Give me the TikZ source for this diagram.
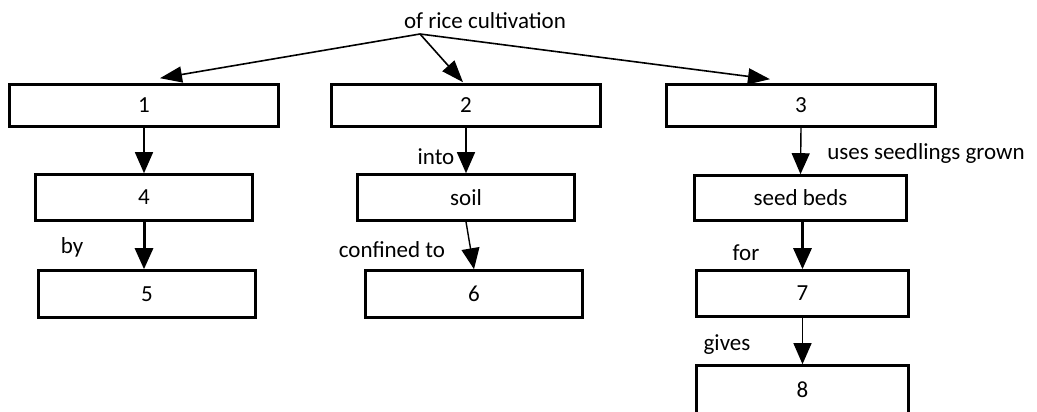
\documentclass[tikz,border=0pt]{standalone}
\usepackage{fontspec}
\setmainfont{Carlito}
\usetikzlibrary{arrows.meta}
\begin{document}
\begin{tikzpicture}[x=1pt,y=-1pt,
  box/.style={draw, line width=2.6pt, inner sep=0pt, minimum width=217pt, minimum height=46pt, font=\fontsize{23}{25}\selectfont},
  wide/.style={box, minimum width=269pt, minimum height=42pt},
  lbl/.style={inner sep=0pt, font=\fontsize{23}{25}\selectfont},
  thin/.style={line width=1.4pt, -{Triangle[length=21pt,width=18pt]}},
  thick/.style={line width=3pt, -{Triangle[length=21pt,width=18pt]}},
  top/.style={line width=1.6pt, -{Triangle[length=22pt,width=16pt]}}]
\useasboundingbox (0,0) rectangle (1037,412);
\clip (0,0) rectangle (1037,412);
\node[lbl] (title) at (485,21) {of rice cultivation};
\coordinate (apex) at (420,34);
\node[wide] (b1) at (144,105.5) {1};
\node[wide] (b2) at (466,105.5) {2};
\node[wide] (b3) at (801,105.5) {3};
\node[box] (b4) at (144,197.5) {4};
\node[box, minimum height=47pt] (b5) at (147,294) {5};
\node[box] (soil) at (466,197.5) {soil};
\node[box, minimum height=47pt] (b6) at (474,294) {6};
\node[box, minimum width=212pt, minimum height=45pt] (seed) at (800.5,198) {seed beds};
\node[box, minimum width=212pt] (b7) at (802.5,293.5) {7};
\node[box, minimum width=212pt, minimum height=48pt] (b8) at (802.5,389.5) {8};
\draw[top] (apex) -- ([xshift=16pt,yshift=5pt]b1.north);
\draw[top] (apex) -- ([xshift=-3pt,yshift=1pt]b2.north);
\draw[top] (apex) -- ([xshift=-31pt,yshift=4pt]b3.north);
\draw[thin] (b1.south) -- (b4.north);
\draw[thick] (b4.south) -- (b4.south |- b5.north);
\draw[thin] (b2.south) -- (soil.north);
\draw[thin] (soil.south) -- (b6.north);
\draw[thin] (b3.south) -- (seed.north);
\draw[thick] (seed.south -| b7.north) -- (b7.north);
\draw[thin] (b7.south) -- (b8.north);
\node[lbl] (by) at (72,247) {by};
\node[lbl] (into) at (436,157) {into};
\node[lbl] (confined) at (392,250) {confined to};
\node[lbl] (uses) at (926,153) {uses seedlings grown};
\node[lbl] (for) at (746,253) {for};
\node[lbl] (gives) at (727,345) {gives};
\end{tikzpicture}
\end{document}
